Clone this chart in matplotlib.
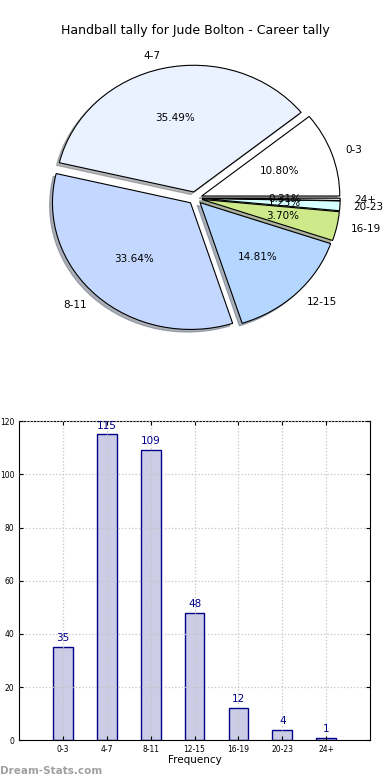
import matplotlib
matplotlib.use("Agg")
import matplotlib.pyplot as plt
import numpy as np

categories = ["0-3", "4-7", "8-11", "12-15", "16-19", "20-23", "24+"]
counts = [35, 115, 109, 48, 12, 4, 1]
pie_colors = ["#ffffff", "#eaf1ff", "#c4d8ff", "#b4d6ff", "#cde98a", "#d6ffff", "#dddddd"]

fig = plt.figure(figsize=(3.9, 7.8), dpi=100)
fig.text(0.5, 0.961, "Handball tally for Jude Bolton - Career tally",
         ha="center", va="center", fontsize=9)

# pie (not forced round, like the original)
ax1 = fig.add_axes([0.058, 0.543, 0.885, 0.406])
explode = [0.05] * len(counts)
wedges, texts, autotexts = ax1.pie(counts, labels=categories, colors=pie_colors,
                                   explode=explode, autopct="%1.2f%%",
                                   shadow={"ox": -0.015, "oy": -0.015, "shade": 0.55},
                                   startangle=0, labeldistance=1.1, pctdistance=0.6,
                                   wedgeprops=dict(edgecolor="black", linewidth=0.8),
                                   textprops=dict(fontsize=7.5))
ax1.set_aspect("auto")
ax1.set_xlim(-1.25, 1.25)
ax1.set_ylim(-1.25, 1.25)

# bar chart
ax2 = fig.add_axes([0.049, 0.051, 0.9, 0.409])
x = np.arange(len(categories))
bars = ax2.bar(x, counts, width=0.45, color="#cccce6", edgecolor="#00008b", linewidth=1)
for xi, c in zip(x, counts):
    ax2.text(xi, c + 1.5, str(c), ha="center", va="bottom", color="#00008b", fontsize=7.5)
ax2.set_xlim(-1, 7)
ax2.set_ylim(0, 120)
ax2.set_xticks(x)
ax2.set_xticklabels(categories, fontsize=5.5)
ax2.set_yticks(range(0, 121, 20))
ax2.tick_params(axis="y", labelsize=5.5)
ax2.tick_params(direction="in", top=True, right=True, length=3)
ax2.grid(True, linestyle=":", color="#c4c4c4", linewidth=0.9)
ax2.set_axisbelow(False)
ax2.set_xlabel("Frequency", fontsize=7.5, labelpad=1)

fig.text(0.0, 0.012, "Dream-Stats.com", fontsize=7.5, color="#a0a0a0",
         fontweight="bold", ha="left", va="center")

fig.savefig("out.png", dpi=100)
